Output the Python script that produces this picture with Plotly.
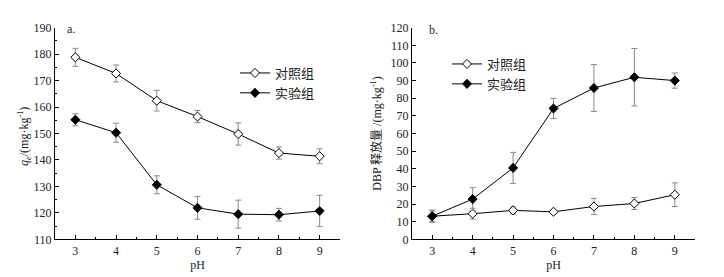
import plotly.graph_objects as go

ph = [3, 4, 5, 6, 7, 8, 9]

# Panel a: q_e (mg/kg)
qe_control = [178.8, 172.7, 162.4, 156.4, 149.8, 142.6, 141.4]
qe_control_err = [3.4, 3.2, 3.9, 2.3, 4.2, 2.3, 2.8]
qe_exp = [155.2, 150.3, 130.6, 121.9, 119.5, 119.3, 120.7]
qe_exp_err = [2.3, 3.6, 3.4, 4.3, 5.3, 2.4, 5.9]

# Panel b: DBP release (mg/kg)
dbp_control = [13.1, 14.5, 16.4, 15.6, 18.6, 20.3, 25.3]
dbp_control_err = [3.0, 3.1, 2.0, 1.0, 4.6, 3.4, 6.7]
dbp_exp = [13.1, 22.8, 40.5, 74.2, 85.8, 91.9, 90.0]
dbp_exp_err = [3.5, 6.5, 8.8, 5.7, 13.3, 16.3, 4.3]

names = ["对照组", "实验组"]
ytitle_a = "<i>q</i><sub><i>e</i></sub>/(mg·kg<sup>-1</sup>)"
ytitle_b = "DBP 释放量 /(mg·kg<sup>-1</sup>)"

SERIF = "Liberation Serif, Times New Roman, serif"
CJK = "Liberation Serif, Noto Sans CJK SC, serif"

fig = go.Figure()

def add(x, y, err, name, filled, xa, ya, legend, showlegend=True):
    fig.add_trace(go.Scatter(
        x=x, y=y, name=name, mode="lines+markers",
        xaxis=xa, yaxis=ya, legend=legend, showlegend=showlegend,
        line=dict(color="black", width=1),
        marker=dict(symbol="diamond", size=7,
                    color="black" if filled else "white",
                    line=dict(color="black", width=1)),
        error_y=dict(type="data", array=err, visible=True,
                     color="#8a8a8a", thickness=1, width=3),
    ))

add(ph, qe_control, qe_control_err, names[0], False, "x", "y", "legend")
add(ph, qe_exp, qe_exp_err, names[1], True, "x", "y", "legend")
add(ph, dbp_control, dbp_control_err, names[0], False, "x2", "y2", "legend2")
add(ph, dbp_exp, dbp_exp_err, names[1], True, "x2", "y2", "legend2")

W, H = 724, 277
OFF = 8   # page body offset

def px(x):
    return (x - OFF) / W

def py(y):
    return 1 - (y - OFF) / H

ydom = [py(239.3), py(27.7)]

xcommon = dict(range=[2.5, 9.5], tickmode="array", tickvals=ph, ticktext=[str(v) for v in ph],
               ticks="inside", ticklen=4, tickcolor="black", tickwidth=1,
               minor=dict(ticks="inside", ticklen=2, tickcolor="black", dtick=0.5, tick0=2.5, showgrid=False),
               showline=True, linecolor="black", linewidth=1, mirror=False,
               showgrid=False, zeroline=False, automargin=False,
               tickfont=dict(family=SERIF, size=12, color="#222"),
               title=dict(text="pH", font=dict(family=SERIF, size=12, color="#222"), standoff=3))
ycommon = dict(ticks="inside", ticklen=4, tickcolor="black", tickwidth=1,
               showline=True, linecolor="black", linewidth=1,
               showgrid=False, zeroline=False, automargin=False,
               tickfont=dict(family=SERIF, size=12, color="#222"))

fig.update_layout(
    width=W, height=H,
    margin=dict(l=0, r=0, t=0, b=0),
    paper_bgcolor="white", plot_bgcolor="white",
    xaxis=dict(domain=[px(55), px(340)], anchor="y", **xcommon),
    xaxis2=dict(domain=[px(412), px(695)], anchor="y2", **xcommon),
    yaxis=dict(domain=ydom, anchor="x", range=[110, 190], dtick=10,
               minor=dict(ticks="inside", ticklen=2, tickcolor="black", dtick=5),
               **ycommon),
    yaxis2=dict(domain=ydom, anchor="x2", range=[0, 120], dtick=10,
                title=dict(text=ytitle_b,
                           font=dict(family=CJK, size=12, color="#222"), standoff=6),
                **ycommon),
    legend=dict(x=px(235), y=py(58), xanchor="left", yanchor="top",
                bgcolor="rgba(0,0,0,0)", font=dict(family=CJK, size=13, color="#222"),
                itemwidth=30, tracegroupgap=0),
    legend2=dict(x=px(447), y=py(49), xanchor="left", yanchor="top",
                 bgcolor="rgba(0,0,0,0)", font=dict(family=CJK, size=13, color="#222"),
                 itemwidth=30, tracegroupgap=0),
    annotations=[
        dict(text=ytitle_a, x=px(24), y=py(137), xref="paper", yref="paper",
             xanchor="center", yanchor="middle", showarrow=False, textangle=-90,
             font=dict(family=SERIF, size=12, color="#222")),
        dict(text="a.", x=px(65), y=py(29), xref="paper", yref="paper",
             xanchor="left", yanchor="middle", showarrow=False,
             font=dict(family=SERIF, size=12, color="#222")),
        dict(text="b.", x=px(427), y=py(30), xref="paper", yref="paper",
             xanchor="left", yanchor="middle", showarrow=False,
             font=dict(family=SERIF, size=12, color="#222")),
    ],
)

fig.write_html("out.html")
